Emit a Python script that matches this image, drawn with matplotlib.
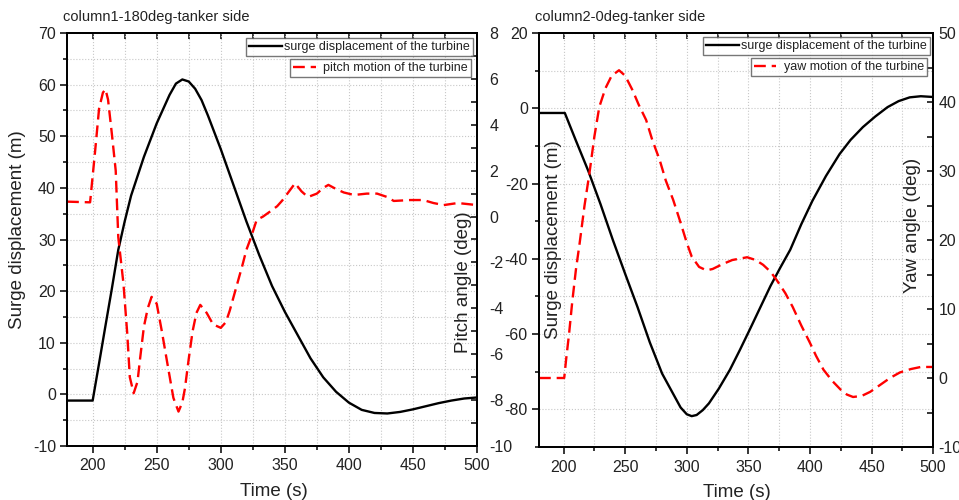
import matplotlib
matplotlib.use('Agg')
import matplotlib.pyplot as plt
from matplotlib.ticker import MultipleLocator

plt.rcParams['font.family'] = ['Liberation Sans', 'DejaVu Sans']
plt.rcParams['axes.unicode_minus'] = False

# ---- data ----
# column1 (180deg, tanker side)
t_surge1 = [180, 200, 205, 210, 215, 220, 225, 230, 240, 250, 260, 265, 270, 275,
            280, 285, 290, 300, 310, 320, 330, 340, 350, 360, 370, 380, 390, 400, 410,
            420, 430, 440, 450, 460, 470, 480, 490, 500]
surge1 = [-1.2, -1.2, 6, 13.3, 20.5, 28, 33.5, 38.5, 46, 52.5, 58, 60.2, 61, 60.6,
          59.2, 57, 54, 47.5, 40.5, 33.5, 27, 21, 16, 11.5, 7, 3.3, 0.5, -1.6, -3,
          -3.6, -3.7, -3.4, -2.9, -2.3, -1.7, -1.2, -0.8, -0.6]

t_pitch1 = [180, 198, 202, 205, 208, 210, 212, 215, 218, 220, 224, 227, 229, 232,
            235, 237, 240, 243, 246, 250, 254, 258, 263, 267, 270, 272, 275, 278,
            281, 284, 289, 294, 300, 304, 307, 310, 313, 317, 320, 323, 328, 333,
            338, 344, 348, 352, 358, 363, 368, 375, 380, 384, 390, 396, 404, 414,
            422, 430, 435, 448, 458, 466, 474, 485, 500]
pitch1 = [0.65, 0.62, 2.9, 4.7, 5.4, 5.55, 5.1, 3.6, 2.0, -0.9, -2.9, -5.1, -7.0, -7.7,
          -7.2, -6.2, -4.8, -4.0, -3.5, -3.8, -5.0, -6.3, -7.9, -8.5, -8.1, -7.5, -6.2, -5.0,
          -4.2, -3.85, -4.2, -4.7, -4.85, -4.6, -4.1, -3.5, -2.9, -2.1, -1.45, -1.0, -0.15, 0.0,
          0.2, 0.45, 0.7, 1.0, 1.45, 1.1, 0.85, 1.0, 1.25, 1.38, 1.2, 1.05, 0.94, 1.0,
          1.0, 0.85, 0.68, 0.72, 0.72, 0.59, 0.5, 0.59, 0.5]

# column2 (0deg, tanker side)
t_surge2 = [180, 201, 210, 220, 230, 240, 250, 260, 270, 280, 290, 295, 300, 304, 308,
            313, 318, 326, 335, 343, 351, 360, 368, 376, 384, 393, 402, 413, 424, 433,
            443, 453, 463, 472, 481, 490, 500]
surge2 = [-1.25, -1.25, -8.6, -16.6, -25.5, -35, -44, -52.8, -62.2, -70.5, -76.5, -79.5, -81.3, -81.8, -81.5,
          -80.2, -78.4, -74.5, -69.5, -64.3, -58.9, -52.7, -47.2, -42.3, -37.6, -30.8, -24.6, -18, -12.2, -8.4,
          -5, -2.2, 0.3, 1.9, 2.9, 3.2, 3.0]

t_yaw2 = [180, 200.5, 202, 204.5, 207, 210, 213, 217, 221, 225, 229, 234, 239, 245,
          250, 256, 261, 267, 272, 278, 283, 289, 295, 300, 304, 310, 316, 321,
          329, 337, 349, 356, 362, 368, 373, 380, 386, 393, 400, 405, 411, 418,
          425, 430, 435, 442, 449, 457, 465, 473, 482, 490, 500]
yaw2 = [0, 0, 2.6, 6.5, 11, 15.7, 19.5, 25, 29.7, 35, 39.3, 42, 43.8, 44.6,
        43.8, 41.7, 39.6, 37.4, 34.5, 31.6, 28.6, 25.8, 22.5, 19.6, 17.6, 16.1, 15.6, 15.8,
        16.5, 17.1, 17.5, 17.1, 16.4, 15.4, 14.2, 12.3, 10.3, 7.6, 5.1, 3.2, 1.2, -0.4,
        -1.7, -2.4, -2.75, -2.6, -2.0, -1.0, 0, 0.8, 1.3, 1.6, 1.6]

TXT = '#222222'
DASH = (0, (5, 2.5))

fig = plt.figure(figsize=(9.59, 5.0), dpi=100)


def style_axes(ax, ax2, ymaj, ymin, y2maj, y2min, y2pad):
    ax.set_xlim(180, 500)
    ax.xaxis.set_major_locator(MultipleLocator(50))
    ax.xaxis.set_minor_locator(MultipleLocator(25))
    ax.yaxis.set_major_locator(MultipleLocator(ymaj))
    ax.yaxis.set_minor_locator(MultipleLocator(ymin))
    ax2.yaxis.set_major_locator(MultipleLocator(y2maj))
    ax2.yaxis.set_minor_locator(MultipleLocator(y2min))
    ax.grid(which='both', color='#c8c8c8', linestyle=':', linewidth=0.8)
    ax.set_axisbelow(True)
    ax.tick_params(which='major', direction='out', length=5, width=1.1,
                   labelsize=11.5, labelcolor=TXT, pad=3)
    ax.tick_params(which='minor', direction='out', length=3, width=1.1)
    ax.tick_params(axis='x', pad=4)
    ax2.tick_params(which='major', direction='in', length=4, width=1.1,
                    labelsize=11.5, labelcolor=TXT, pad=y2pad)
    ax2.tick_params(which='minor', direction='in', length=4, width=1.1)
    top = ax.secondary_xaxis('top')
    top.xaxis.set_major_locator(MultipleLocator(25))
    top.tick_params(direction='in', length=4, width=1.1, labeltop=False)
    for a in (ax, ax2, top):
        for s in a.spines.values():
            s.set_linewidth(1.3)


# ---------------- left panel ----------------
ax = fig.add_axes([0.0699, 0.108, 0.4275, 0.826])
ax2 = ax.twinx()
h1, = ax.plot(t_surge1, surge1, color='black', linewidth=1.7)
h2, = ax2.plot(t_pitch1, pitch1, color='#ff0000', linewidth=1.7, linestyle=DASH)
ax.set_ylim(-10, 70)
ax2.set_ylim(-10, 8)
style_axes(ax, ax2, 10, 5, 2, 1, 9)

ax.set_xlabel('Time (s)', fontsize=13.5, color=TXT, va='center')
ax.xaxis.set_label_coords(0.505, -0.111)
ax.set_ylabel('Surge displacement (m)', fontsize=13.5, color=TXT, va='center', ha='center')
ax.yaxis.set_label_coords(-0.12, 0.525)
ax2.set_ylabel('Pitch angle (deg)', fontsize=13.5, color=TXT, va='center', ha='center')
ax2.yaxis.set_label_coords(0.966, 0.397)
fig.text(63 / 959, 1 - 17 / 500, 'column1-180deg-tanker side', fontsize=10.5,
         color=TXT, ha='left', va='center')

leg_kw = dict(loc='upper right', bbox_transform=fig.transFigure, fontsize=9,
              frameon=True, fancybox=False, borderaxespad=0, borderpad=0.25,
              labelcolor=TXT)
lg1 = ax2.legend([h1], ['surge displacement of the turbine'],
                 bbox_to_anchor=(473 / 959, 1 - 38 / 500), handlelength=2.6,
                 handletextpad=0.2, **leg_kw)
lg1.get_frame().set_edgecolor('#555555')
lg1.get_frame().set_linewidth(1.0)
ax2.add_artist(lg1)
lg2 = ax2.legend([h2], ['pitch motion of the turbine'],
                 bbox_to_anchor=(471 / 959, 1 - 59 / 500), handlelength=1.8,
                 handletextpad=0.6, **leg_kw)
lg2.get_frame().set_edgecolor('#555555')
lg2.get_frame().set_linewidth(1.0)

# ---------------- right panel ----------------
bx = fig.add_axes([0.562, 0.106, 0.411, 0.828])
bx2 = bx.twinx()
k1, = bx.plot(t_surge2, surge2, color='black', linewidth=1.7)
k2, = bx2.plot(t_yaw2, yaw2, color='#ff0000', linewidth=1.7, linestyle=DASH)
bx.set_ylim(-90, 20)
bx2.set_ylim(-10, 50)
style_axes(bx, bx2, 20, 10, 10, 5, 4)
bx.set_yticks([20, 0, -20, -40, -60, -80])

bx.set_xlabel('Time (s)', fontsize=13.5, color=TXT, va='center')
bx.xaxis.set_label_coords(0.503, -0.109)
bx.set_ylabel('Surge displacement (m)', fontsize=13.5, color=TXT, va='center', ha='center')
bx.yaxis.set_label_coords(0.038, 0.5)
bx2.set_ylabel('Yaw angle (deg)', fontsize=13.5, color=TXT, va='center', ha='center')
bx2.yaxis.set_label_coords(0.947, 0.536)
fig.text(535 / 959, 1 - 17 / 500, 'column2-0deg-tanker side', fontsize=10.5,
         color=TXT, ha='left', va='center')

lg3 = bx2.legend([k1], ['surge displacement of the turbine'],
                 bbox_to_anchor=(930 / 959, 1 - 37 / 500), handlelength=2.6,
                 handletextpad=0.2, **leg_kw)
lg3.get_frame().set_edgecolor('#555555')
lg3.get_frame().set_linewidth(1.0)
bx2.add_artist(lg3)
lg4 = bx2.legend([k2], ['yaw motion of the turbine'],
                 bbox_to_anchor=(927 / 959, 1 - 58 / 500), handlelength=1.8,
                 handletextpad=0.6, **leg_kw)
lg4.get_frame().set_edgecolor('#555555')
lg4.get_frame().set_linewidth(1.0)

fig.savefig('out.png', dpi=100)
